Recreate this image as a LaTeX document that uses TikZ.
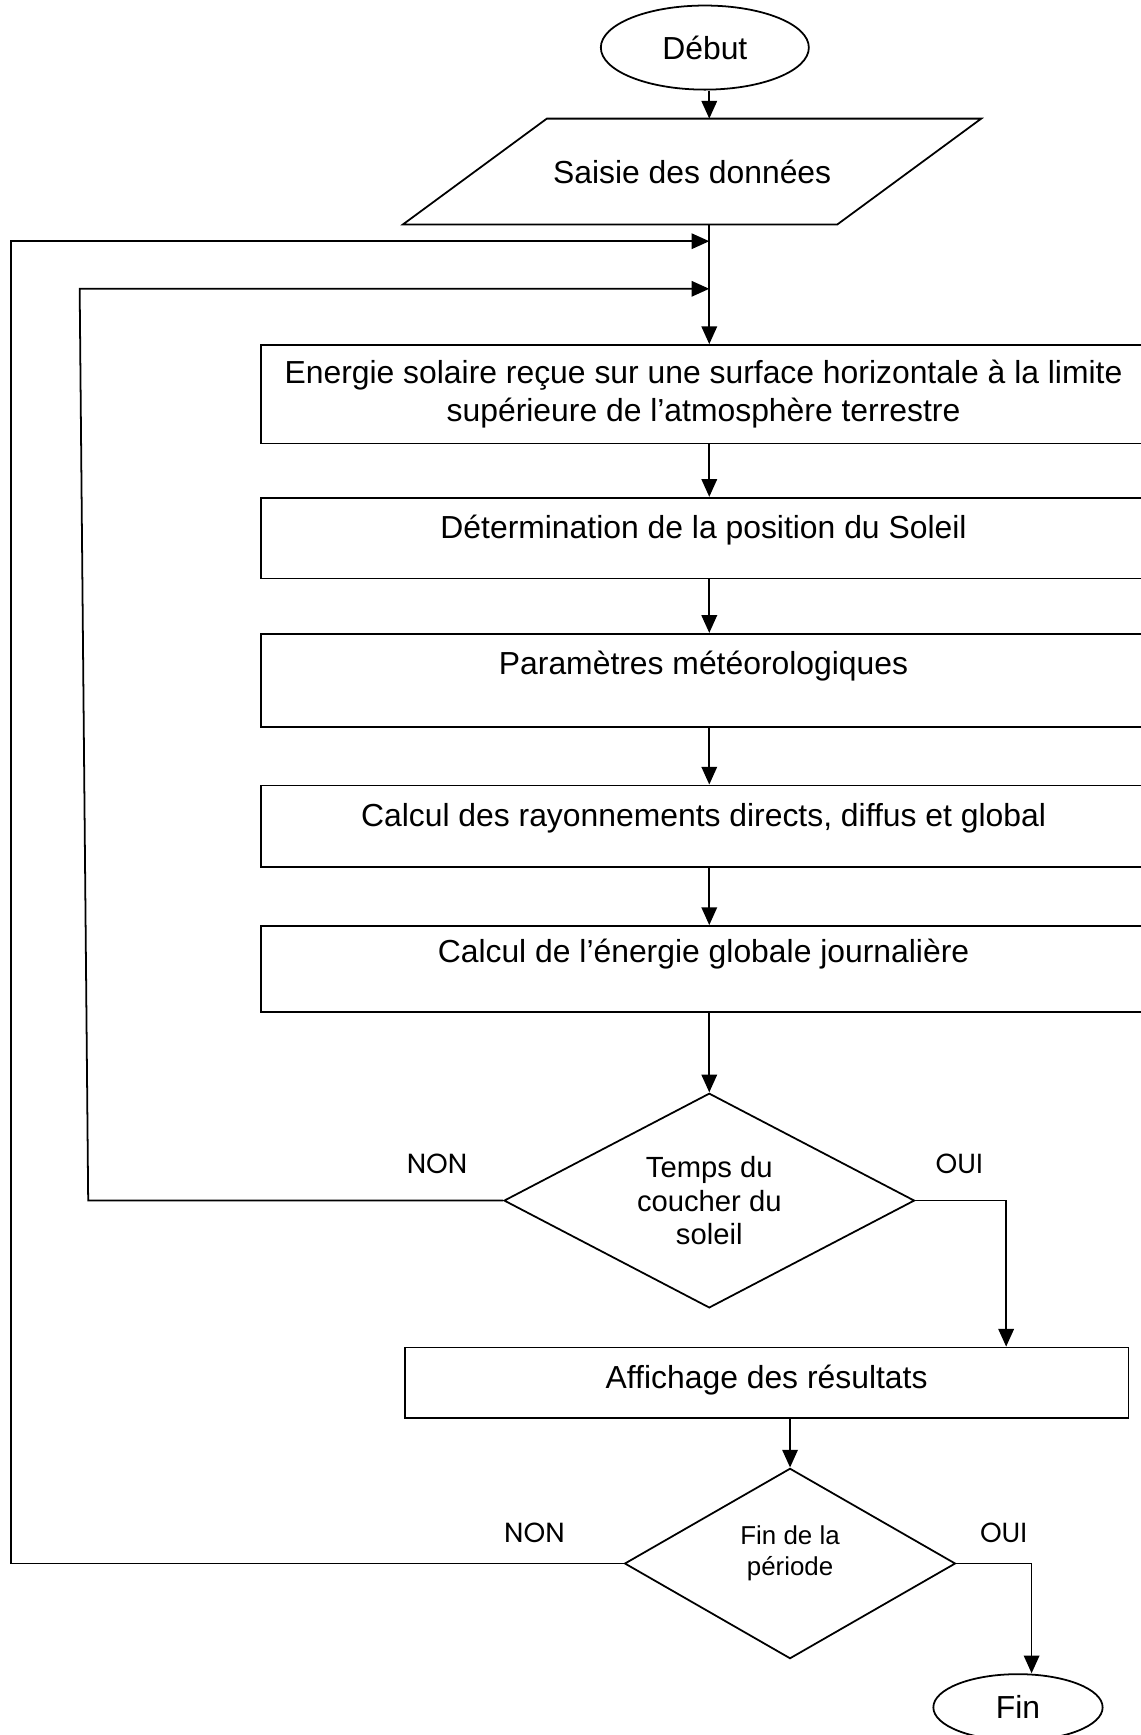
\documentclass[tikz,border=0pt]{standalone}
\usepackage{fontspec}
\setmainfont{Liberation Sans}
\newfontfamily\gothic{Poppins}
\usetikzlibrary{shapes, arrows.meta, positioning}

\begin{document}
\begin{tikzpicture}[
        x=0.5pt, y=-0.5pt, line width=0.8pt,
        every node/.style={font=\fontsize{14.4}{17}\selectfont},
        term/.style={draw, ellipse, inner sep=0pt},
        io/.style={rectangle, minimum width=195.5pt, minimum height=47pt, inner sep=0pt},
        proc/.style={draw, rectangle, anchor=north west, minimum width=400pt, inner ysep=0pt, align=center},
        test/.style={draw, diamond, inner sep=0pt, aspect=1.9, align=center},
        lbl/.style={font=\gothic\fontsize{12.5}{15}\selectfont},
        arrow/.style={-{Triangle[length=8pt, width=7pt]}}
    ]
        \useasboundingbox (0,0) rectangle (1031,1568);

        \node[term, minimum width=94pt, minimum height=38pt] (debut) at (637,43) {Début};
        \node[io] (saisie) at (625.5,155) {Saisie des données};
        \draw ([xshift=-32.5pt]saisie.south west) -- ([xshift=-32.5pt]saisie.south east)
            -- ([xshift=32.5pt]saisie.north east) -- ([xshift=32.5pt]saisie.north west) -- cycle;
        \coordinate (in1) at (641,218);
        \coordinate (in2) at (641,261);
        \coordinate (left1) at (10,218);
        \coordinate (left2) at (72,261);

        \node[proc, minimum height=44.5pt] (energie) at (235,311) {Energie solaire reçue sur une surface horizontale à la limite\\supérieure de l’atmosphère terrestre};
        \node[proc, text height=18.5pt, text depth=18pt] (position) at (235,449) {Détermination de la position du Soleil};
        \node[proc, text height=18.5pt, text depth=23.5pt] (meteo) at (235,572) {Paramètres météorologiques};
        \node[proc, text height=18.5pt, text depth=18.5pt] (rayonnement) at (235,709) {Calcul des rayonnements directs, diffus et global};
        \node[proc, text height=16.5pt, text depth=22.5pt] (journaliere) at (235,836) {Calcul de l’énergie globale journalière};

        \node[test, minimum width=185.5pt, minimum height=97pt, font=\fontsize{13.2}{15.3}\selectfont] (temps) at (641,1085) {Temps du\\coucher du\\soleil};
        \node[proc, minimum width=327pt, text height=18.5pt, text depth=13.5pt] (affichage) at (365,1217) {Affichage des résultats};
        \node[test, minimum width=149.5pt, minimum height=86pt, text depth=11.5pt, font=\fontsize{11.7}{14}\selectfont] (periode) at (714,1413) {Fin de la\\période};
        \node[term, minimum width=76.5pt, minimum height=30pt] (fin) at (920,1543) {Fin};

        \node[lbl] (non1) at (395,1052) {NON};
        \node[lbl] (oui1) at (867,1052) {OUI};
        \node[lbl] (non2) at (483,1385) {NON};
        \node[lbl] (oui2) at (907,1385) {OUI};

        \draw[arrow] (debut.south -| in1) -- (saisie.north -| in1);
        \draw[arrow] (saisie.south -| in1) -- (energie.north -| in1);
        \draw[arrow] (periode.west) -| (left1) -- (in1);
        \draw[arrow] (temps.west) -- ++(-375,0) -- (left2) -- (in2);
        \draw[arrow] (energie.south -| in1) -- (position.north -| in1);
        \draw[arrow] (position.south -| in1) -- (meteo.north -| in1);
        \draw[arrow] (meteo.south -| in1) -- (rayonnement.north -| in1);
        \draw[arrow] (rayonnement.south -| in1) -- (journaliere.north -| in1);
        \draw[arrow] (journaliere.south -| in1) -- (temps.north);
        \draw[arrow] (temps.east) -- ++(82,0) coordinate (t1) -- (t1 |- affichage.north);
        \draw[arrow] (affichage.south -| periode.north) -- (periode.north);
        \draw[arrow] (periode.east) -- ++(68,0) coordinate (p1) -- (p1 |- fin.north);
    \end{tikzpicture}
\end{document}
